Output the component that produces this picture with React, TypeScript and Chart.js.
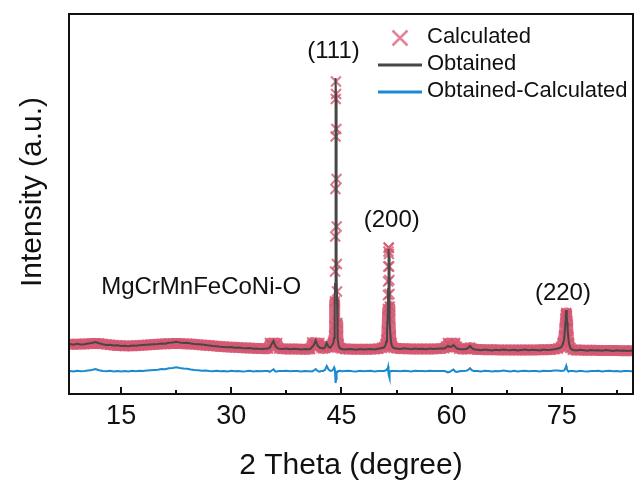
import { useEffect, useRef } from "react";
import { Chart, registerables } from "chart.js";

Chart.register(...registerables);

const FONT = 'Arial, "Liberation Sans", Helvetica, sans-serif';
const WIDTH = 635;
const HEIGHT = 486;

// 2θ positions (degrees): coarse over the background, fine across the reflections
const twoTheta = [
  8, 8.5, 9, 9.5, 10, 10.5, 11, 11.5, 12, 12.5,
  13, 13.5, 14, 14.5, 15, 15.5, 16, 16.5, 17, 17.5,
  18, 18.5, 19, 19.5, 20, 20.5, 21, 21.5, 22, 22.5,
  23, 23.5, 24, 24.5, 25, 25.5, 26, 26.5, 27, 27.5,
  28, 28.5, 29, 29.5, 30, 30.5, 31, 31.5, 32, 32.5,
  33, 33.5, 34, 34.5,
  35, 35.25, 35.5, 35.75, 36, 36.25, 36.5,
  37, 37.5, 38, 38.5, 39, 39.5, 40, 40.5,
  40.75, 41, 41.25, 41.5, 41.75, 42, 42.25, 42.5, 42.75, 43, 43.25, 43.5, 43.75,
  43.9, 44, 44.05, 44.1, 44.125, 44.15, 44.175, 44.2, 44.225, 44.25,
  44.275, 44.3, 44.325, 44.35, 44.375, 44.4, 44.45, 44.5, 44.6, 44.75,
  45, 45.5, 46, 46.5, 47, 47.5, 48, 48.5, 49, 49.5, 50, 50.5,
  50.8, 51, 51.1, 51.2, 51.3, 51.325, 51.35, 51.375, 51.4, 51.425, 51.45,
  51.475, 51.5, 51.525, 51.55, 51.575, 51.6, 51.7, 51.8, 51.9, 52.1,
  52.5, 53, 53.5, 54, 54.5, 55, 55.5, 56, 56.5, 57, 57.5, 58, 58.5,
  59, 59.25, 59.5, 59.75, 60, 60.25, 60.5, 60.75, 61, 61.5, 62, 62.25, 62.5, 62.75, 63,
  63.5, 64, 64.5, 65, 65.5, 66, 66.5, 67, 67.5, 68, 68.5, 69, 69.5, 70, 70.5,
  71, 71.5, 72, 72.5, 73, 73.5, 74, 74.5,
  74.9, 75.1, 75.3, 75.4, 75.5, 75.55, 75.6, 75.65, 75.7, 75.75, 75.8, 75.9, 76, 76.2,
  76.5, 77, 77.5, 78, 78.5, 79, 79.5, 80, 80.5, 81, 81.5, 82, 82.5, 83, 83.5, 84, 84.5, 84.7,
];

// Measured pattern (counts)
const obtained = [
  400, 385, 405, 390, 395, 410, 420, 440, 415, 395,
  380, 385, 370, 375, 360, 365, 355, 370, 365, 375,
  380, 385, 390, 395, 400, 410, 405, 425, 430, 445,
  430, 420, 425, 410, 400, 395, 390, 380, 370, 360,
  355, 345, 340, 335, 340, 325, 330, 320, 315, 320,
  305, 310, 300, 305,
  310, 330, 400, 460, 360, 320, 305,
  300, 310, 295, 305, 300, 290, 300, 295,
  300, 340, 380, 470, 370, 330, 320, 310, 330, 420, 340, 330, 380,
  420, 520, 700, 1100, 1600, 2300, 3200, 4200, 5100, 5720,
  5300, 4600, 3500, 2500, 1800, 1300, 750, 520, 380, 320,
  300, 290, 300, 295, 285, 300, 290, 295, 300, 290, 305, 320,
  330, 380, 450, 600, 1000, 1250, 1500, 1800, 2100, 2250, 2300,
  2150, 1900, 1600, 1300, 1050, 850, 520, 400, 350, 320,
  310, 300, 315, 305, 295, 310, 300, 305, 295, 310, 300, 305, 310,
  310, 330, 360, 340, 350, 380, 340, 310, 300, 295, 300, 320, 360, 320, 295,
  285, 275, 290, 280, 270, 285, 275, 290, 280, 275, 285, 270, 280, 290, 275,
  285, 280, 270, 290, 280, 285, 295, 310,
  330, 380, 480, 620, 850, 1000, 1080, 1060, 950, 820, 700, 520, 400, 310,
  280, 270, 285, 275, 265, 280, 270, 275, 265, 280, 270, 260, 275, 265, 270, 260, 270, 265,
];

// Refined model pattern (counts)
const calculated = [
  396, 396, 397, 398, 400, 404, 408, 412, 410, 402,
  392, 383, 376, 370, 366, 363, 362, 364, 367, 371,
  376, 381, 386, 391, 396, 400, 404, 407, 409, 410,
  409, 406, 402, 398, 393, 387, 381, 375, 369, 363,
  357, 351, 346, 341, 337, 333, 329, 325, 321, 318,
  315, 312, 309, 307,
  306, 420, 370, 360, 380, 420, 310,
  304, 302, 300, 299, 298, 297, 296, 296,
  300, 430, 360, 380, 370, 420, 330, 310, 320, 360, 330, 340, 400,
  440, 560, 760, 1250, 1850, 2550, 3500, 4550, 5300, 5650,
  5400, 4700, 3700, 2750, 2000, 1450, 820, 560, 400, 330,
  310, 300, 298, 296, 295, 294, 294, 295, 296, 298, 305, 320,
  340, 400, 480, 660, 1100, 1380, 1650, 1950, 2250, 2330, 2320,
  2200, 1950, 1680, 1400, 1150, 900, 560, 420, 360, 325,
  312, 308, 305, 303, 302, 301, 300, 300, 300, 301, 302, 304, 308,
  315, 350, 420, 370, 340, 360, 420, 340, 305, 298, 300, 310, 330, 310, 296,
  290, 288, 286, 285, 284, 283, 282, 282, 281, 281, 280, 280, 280, 280, 280,
  281, 282, 283, 285, 287, 290, 296, 310,
  340, 420, 560, 700, 900, 980, 1020, 1000, 960, 860, 720, 540, 410, 320,
  282, 280, 278, 276, 275, 274, 273, 272, 271, 270, 269, 268, 268, 267, 267, 266, 266, 266,
];

// Residual curve, shifted below the patterns (counts)
const difference = [
  -140, -150, -135, -145, -140, -130, -120, -100, -125, -140,
  -145, -135, -150, -140, -150, -140, -150, -135, -145, -135,
  -140, -130, -125, -120, -115, -100, -105, -85, -80, -65,
  -80, -90, -95, -110, -120, -125, -135, -130, -140, -145,
  -135, -145, -140, -150, -135, -145, -140, -150, -145, -135,
  -150, -140, -145, -140,
  -140, -155, -130, -105, -150, -150, -138,
  -140, -135, -145, -138, -140, -150, -138, -145,
  -145, -150, -130, -100, -140, -155, -140, -140, -120, -40, -110, -140, -130,
  -100, -70, -90, -110, -140, -170, -230, -300, -330, -380,
  -300, -230, -200, -170, -165, -160, -150, -145, -140, -135,
  -145, -140, -135, -145, -150, -135, -145, -140, -135, -148, -140, -140,
  -140, -130, -120, -100, -90, -75, -60, -50, -40, -120, -200,
  -240, -280, -220, -180, -160, -150, -140, -145, -135, -140,
  -140, -145, -135, -140, -148, -135, -142, -138, -145, -135, -142, -138, -140,
  -140, -150, -170, -155, -130, -110, -150, -160, -145, -140, -135, -120, -85, -125, -140,
  -140, -148, -135, -142, -150, -138, -145, -132, -140, -148, -136, -150, -142, -134, -146,
  -138, -142, -150, -135, -140, -138, -130, -130,
  -140, -135, -130, -110, -80, -60, -40, -70, -100, -120, -130, -140, -145, -140,
  -140, -148, -135, -145, -150, -138, -142, -135, -148, -140, -135, -145, -140, -150, -138, -142, -145, -140,
];

const xTicks = [15, 30, 45, 60, 75];
const xMinorTicks = [22.5, 37.5, 52.5, 67.5, 82.5];

const peakLabels = ["(111)", "(200)", "(220)"];
const peakLabelTheta = [43.92, 51.85, 75.16];
const peakLabelCounts = [6260, 2880, 1420];

const sampleName = "MgCrMnFeCoNi-O";
const sampleTheta = 25.9;
const sampleCounts = 1540;

const seriesNames = ["Calculated", "Obtained", "Obtained-Calculated"];
const xTitle = "2 Theta (degree)";
const yTitle = "Intensity (a.u.)";

// above this intensity the model is shown by its crosses alone
const bandCeiling = 1300;

const PINK_BAND = "rgb(217, 103, 127)";
const PINK_MARK = "rgba(214, 86, 113, 0.8)";
const PINK_KEY = "rgba(224, 118, 140, 0.9)";
const GREY = "#474747";
const BLUE = "#1b8bd0";
const INK = "#111111";

const toPoints = (ys: number[]) => twoTheta.map((t, i) => ({ x: t, y: ys[i] }));

const decorations = {
  id: "frameAndLabels",
  afterDraw(chart: any) {
    const { ctx, chartArea: a, scales } = chart;
    const xs = scales.x;
    const ys = scales.y;
    ctx.save();

    // box frame
    ctx.strokeStyle = INK;
    ctx.lineWidth = 2;
    ctx.strokeRect(a.left, a.top, a.right - a.left, a.bottom - a.top);

    // inward ticks on the bottom axis
    ctx.beginPath();
    for (const v of xTicks) {
      const px = Math.round(xs.getPixelForValue(v));
      ctx.moveTo(px, a.bottom);
      ctx.lineTo(px, a.bottom - 7);
    }
    for (const v of xMinorTicks) {
      const px = Math.round(xs.getPixelForValue(v));
      ctx.moveTo(px, a.bottom);
      ctx.lineTo(px, a.bottom - 4);
    }
    ctx.stroke();

    ctx.fillStyle = INK;
    ctx.textAlign = "center";
    ctx.textBaseline = "middle";

    // tick labels
    ctx.font = `27px ${FONT}`;
    for (const v of xTicks) {
      ctx.fillText(String(v), xs.getPixelForValue(v), a.bottom + 23);
    }

    // axis titles
    ctx.font = `30px ${FONT}`;
    ctx.fillText(xTitle, (a.left + a.right) / 2, a.bottom + 72);
    ctx.save();
    ctx.translate(a.left - 36, a.top + 178);
    ctx.rotate(-Math.PI / 2);
    ctx.fillText(yTitle, 0, 0);
    ctx.restore();

    // reflection indices and sample name
    ctx.font = `24px ${FONT}`;
    peakLabels.forEach((t, i) => {
      ctx.fillText(t, xs.getPixelForValue(peakLabelTheta[i]), ys.getPixelForValue(peakLabelCounts[i]));
    });
    ctx.fillText(sampleName, xs.getPixelForValue(sampleTheta), ys.getPixelForValue(sampleCounts));

    // legend
    const keyL = a.right - 255;
    const keyR = a.right - 211;
    const textX = a.right - 206;
    const rows = [a.top + 24, a.top + 51, a.top + 78];

    ctx.strokeStyle = PINK_KEY;
    ctx.lineWidth = 2.5;
    const cx = (keyL + keyR) / 2;
    ctx.beginPath();
    ctx.moveTo(cx - 7.5, rows[0] - 7.5);
    ctx.lineTo(cx + 7.5, rows[0] + 7.5);
    ctx.moveTo(cx + 7.5, rows[0] - 7.5);
    ctx.lineTo(cx - 7.5, rows[0] + 7.5);
    ctx.stroke();

    ctx.lineWidth = 3;
    ctx.strokeStyle = GREY;
    ctx.beginPath();
    ctx.moveTo(keyL, rows[1]);
    ctx.lineTo(keyR, rows[1]);
    ctx.stroke();
    ctx.strokeStyle = BLUE;
    ctx.beginPath();
    ctx.moveTo(keyL, rows[2]);
    ctx.lineTo(keyR, rows[2]);
    ctx.stroke();

    ctx.font = `22px ${FONT}`;
    ctx.textAlign = "left";
    seriesNames.forEach((n, i) => ctx.fillText(n, textX, rows[i] - 1));

    ctx.restore();
  },
};

export default function App() {
  const canvasRef = useRef<HTMLCanvasElement | null>(null);

  useEffect(() => {
    const canvas = canvasRef.current;
    if (!canvas) return;
    const chart = new Chart(canvas, {
      type: "line",
      data: {
        datasets: [
          {
            label: seriesNames[1],
            data: toPoints(obtained),
            borderColor: GREY,
            borderWidth: 2,
            pointRadius: 0,
            order: 0,
          },
          {
            label: seriesNames[0],
            data: toPoints(calculated),
            borderColor: PINK_BAND,
            borderWidth: 11,
            borderJoinStyle: "round",
            borderCapStyle: "round",
            // dense band along the background; near the peak tops only the crosses show
            segment: {
              borderColor: (c: any) =>
                Math.max(calculated[c.p0DataIndex], calculated[c.p1DataIndex]) > bandCeiling
                  ? "rgba(0,0,0,0)"
                  : PINK_BAND,
            },
            pointStyle: "crossRot",
            pointRadius: 7,
            pointBorderWidth: 2,
            pointBorderColor: PINK_MARK,
            pointBackgroundColor: PINK_MARK,
            order: 1,
          },
          {
            label: seriesNames[2],
            data: toPoints(difference),
            borderColor: BLUE,
            borderWidth: 2,
            pointRadius: 0,
            order: 2,
          },
        ],
      } as any,
      options: {
        animation: false,
        responsive: false,
        events: [],
        layout: { autoPadding: false, padding: { left: 69, right: 2, top: 14, bottom: 92 } },
        plugins: { legend: { display: false }, tooltip: { enabled: false } },
        elements: { line: { tension: 0 } },
        scales: {
          x: { type: "linear", display: false, min: 7.9, max: 84.7 },
          y: { display: false, min: -600, max: 7000 },
        },
      } as any,
      plugins: [decorations],
    });
    return () => chart.destroy();
  }, []);

  return (
    <div style={{ position: "fixed", left: 0, top: 0, width: WIDTH, height: HEIGHT, background: "#fff" }}>
      <canvas ref={canvasRef} width={WIDTH} height={HEIGHT} style={{ display: "block" }} />
    </div>
  );
}
